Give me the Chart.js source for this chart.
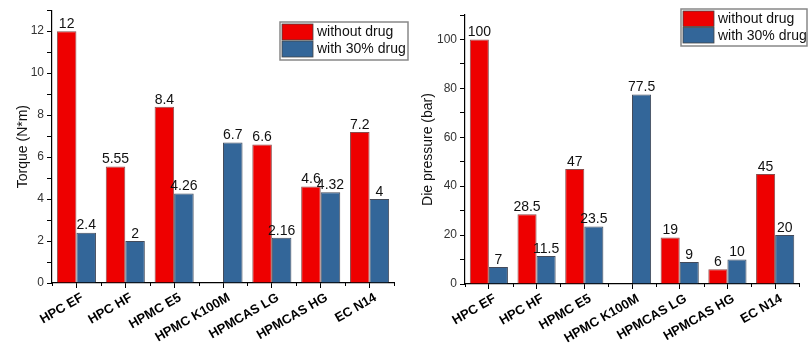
<!DOCTYPE html>
<html>
<head>
<meta charset="utf-8">
<script src="https://cdn.jsdelivr.net/npm/chart.js@4.4.1/dist/chart.umd.min.js"></script>
<style>
  body { margin: 0; background: #fff; width: 808px; height: 350px; position: relative; overflow: hidden; }
  #left { position: absolute; left: 0; top: 0; width: 410px; height: 350px; }
  #right { position: absolute; left: 405px; top: 0; width: 403px; height: 350px; }
</style>
</head>
<body>
<div id="left"><canvas id="torqueChart"></canvas></div>
<div id="right"><canvas id="pressureChart"></canvas></div>
<script>
const categories = ["HPC EF", "HPC HF", "HPMC E5", "HPMC K100M", "HPMCAS LG", "HPMCAS HG", "EC N14"];
const seriesNames = ["without drug", "with 30% drug"];

const torqueWithout = [12, 5.55, 8.4, null, 6.6, 4.6, 7.2];
const torqueWith = [2.4, 2, 4.26, 6.7, 2.16, 4.32, 4];

const pressureWithout = [100, 28.5, 47, null, 19, 6, 45];
const pressureWith = [7, 11.5, 23.5, 77.5, 9, 10, 20];

const RED = "#ee0000";
const BLUE = "#336699";
const FONT = "Arial, 'Liberation Sans', sans-serif";

// value labels above each bar
const valueLabels = {
  id: "valueLabels",
  afterDatasetsDraw(chart) {
    const ctx = chart.ctx;
    ctx.save();
    ctx.font = "14px " + FONT;
    ctx.fillStyle = "#111";
    ctx.textAlign = "center";
    ctx.textBaseline = "bottom";
    chart.data.datasets.forEach((ds, i) => {
      chart.getDatasetMeta(i).data.forEach((bar, j) => {
        const v = ds.data[j];
        if (v === null) return;
        ctx.fillText(String(v), bar.x, bar.y);
      });
    });
    ctx.restore();
  }
};

// small ticks between categories on the x axis
const minorTicks = {
  id: "minorTicks",
  afterDraw(chart) {
    const x = chart.scales.x;
    const ctx = chart.ctx;
    const n = chart.data.labels.length;
    ctx.save();
    ctx.strokeStyle = "#000";
    ctx.lineWidth = 1;
    for (let i = 0; i <= n; i++) {
      const px = Math.round(x.left + i * (x.width / n)) + 0.5;
      ctx.beginPath();
      ctx.moveTo(px, x.top);
      ctx.lineTo(px, x.top + 3);
      ctx.stroke();
    }
    ctx.restore();
  }
};

// boxed legend inside the plot
const boxLegend = {
  id: "boxLegend",
  afterDraw(chart, args, opts) {
    const ctx = chart.ctx;
    const { x, y, w, rowH } = opts;
    ctx.save();
    ctx.fillStyle = "#fff";
    ctx.fillRect(x, y, w, rowH * 2 + 4);
    ctx.strokeStyle = "#888";
    ctx.lineWidth = 1.5;
    ctx.strokeRect(x, y, w, rowH * 2 + 4);
    ctx.font = "14px " + FONT;
    ctx.textBaseline = "middle";
    chart.data.datasets.forEach((ds, i) => {
      const ry = y + 2 + i * rowH;
      ctx.fillStyle = ds.backgroundColor;
      ctx.fillRect(x + 2, ry, 31, rowH - 1);
      ctx.strokeStyle = "#444";
      ctx.lineWidth = 0.8;
      ctx.strokeRect(x + 2, ry, 31, rowH - 1);
      ctx.fillStyle = "#111";
      ctx.fillText(ds.label, x + 37, ry + rowH / 2);
    });
    ctx.restore();
  }
};

function makeChart(id, without, withDrug, cfg) {
  return new Chart(document.getElementById(id), {
    type: "bar",
    data: {
      labels: categories,
      datasets: [
        { label: seriesNames[0], data: without, backgroundColor: RED, borderColor: "rgba(90,0,0,0.7)", borderWidth: 1 },
        { label: seriesNames[1], data: withDrug, backgroundColor: BLUE, borderColor: "rgba(20,30,50,0.8)", borderWidth: 1 }
      ]
    },
    options: {
      responsive: true,
      maintainAspectRatio: false,
      animation: false,
      layout: { padding: { left: 0, top: cfg.top, right: cfg.right, bottom: 0 } },
      datasets: { bar: { categoryPercentage: 0.8, barPercentage: 1.0 } },
      plugins: {
        legend: { display: false },
        tooltip: { enabled: false },
        boxLegend: cfg.legend
      },
      scales: {
        x: {
          afterFit: (s) => { s.height = cfg.xHeight; },
          grid: { offset: false, drawOnChartArea: false, drawTicks: true, tickLength: 5, color: "#000" },
          border: { display: true, color: "#000", width: 1.2 },
          ticks: {
            autoSkip: false, minRotation: 30, maxRotation: 30, padding: 2, labelOffset: 6,
            color: "#000", font: { family: FONT, size: 13, weight: "bold" }
          }
        },
        y: {
          min: 0,
          max: cfg.max,
          afterFit: (s) => { s.width = cfg.yWidth; },
          grid: { drawOnChartArea: false, drawTicks: true, tickLength: 5, color: "#000" },
          border: { display: true, color: "#000", width: 1.2 },
          ticks: {
            stepSize: cfg.step,
            padding: 3,
            color: "#333",
            font: { family: FONT, size: 12 },
            callback: (v) => (v % cfg.labelStep === 0 && v <= cfg.lastLabel ? v : "")
          },
          title: {
            display: true,
            text: cfg.title,
            color: "#111",
            font: { family: FONT, size: 14 },
            padding: { top: 15, bottom: 0 }
          }
        }
      }
    },
    plugins: [valueLabels, minorTicks, boxLegend]
  });
}

makeChart("torqueChart", torqueWithout, torqueWith, {
  top: 8, right: 16, xHeight: 67, yWidth: 52,
  max: 13, step: 1, labelStep: 2, lastLabel: 12,
  title: "Torque (N*m)",
  legend: { x: 280, y: 22, w: 128, rowH: 17 }
});

makeChart("pressureChart", pressureWithout, pressureWith, {
  top: 15, right: 9, xHeight: 66, yWidth: 60,
  max: 110, step: 10, labelStep: 20, lastLabel: 100,
  title: "Die pressure (bar)",
  legend: { x: 276, y: 9, w: 126, rowH: 16.5 }
});
</script>
</body>
</html>
